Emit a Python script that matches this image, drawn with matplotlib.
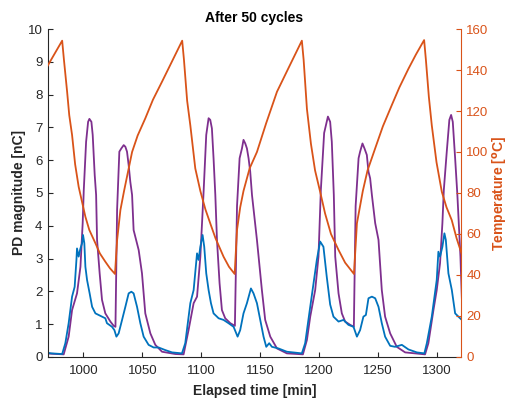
import matplotlib
matplotlib.use("Agg")
import matplotlib.pyplot as plt

# MATLAB-style colours
blue = (0.0, 0.447, 0.741)
orange = (0.85, 0.325, 0.098)
purple = (0.494, 0.184, 0.556)
axcol = (0.15, 0.15, 0.15)

# PD magnitude, blue trace [nC]
t_blue = [967, 973, 982, 984.7, 987.5, 990.4, 992.6, 994.1, 994.6, 996, 997.5, 998.9, 999.7,
          1000.8, 1001.7, 1003.1, 1005.3, 1007.4, 1010.2, 1015.8, 1018.6, 1020, 1024.3, 1026.3,
          1028, 1029.9, 1032.8, 1035.6, 1038.4, 1040.7, 1042.6, 1045.5, 1048.3, 1051.1, 1055.3,
          1059.6, 1063.8, 1069.5, 1075.2, 1083.6, 1086.4, 1090.7, 1093.5, 1096.4, 1097.7, 1099.2,
          1101.1, 1102.5, 1104.2, 1106.2, 1108.2, 1110.4, 1114.7, 1118.9, 1123.1, 1127.4, 1130.8,
          1133, 1135.8, 1138.7, 1142.1, 1144.3, 1147.2, 1150, 1152.8, 1155.1, 1157.6, 1159.9,
          1165.5, 1172.6, 1185.3, 1188.1, 1192.4, 1198, 1200.8, 1203.6, 1206.4, 1209.3, 1212.1,
          1216.4, 1220.6, 1224.8, 1229.1, 1232, 1234.7, 1237.5, 1239.6, 1241.8, 1244.7, 1247.5,
          1250.3, 1253.1, 1255.9, 1260.2, 1264.4, 1270.1, 1275.7, 1282.8, 1289.2, 1291.3, 1295.5,
          1299.7, 1301.1, 1302.5, 1304.5, 1306.2, 1307.4, 1309.6, 1312.5, 1315.3, 1318.1, 1321]
pd_blue = [0.14, 0.11, 0.09, 0.42, 1.03, 1.84, 2.14, 2.96, 3.31, 3.06, 3.31, 3.47, 3.72,
           3.47, 2.75, 2.35, 1.94, 1.53, 1.33, 1.23, 1.18, 1.03, 0.92, 0.82,
           0.62, 0.72, 1.13, 1.53, 1.94, 1.99, 1.94, 1.53, 1.03, 0.62, 0.37,
           0.29, 0.29, 0.21, 0.14, 0.11, 0.42, 1.64, 2.04, 3.16, 2.96, 3.36,
           3.72, 3.36, 2.55, 2.04, 1.64, 1.33, 1.18, 1.13, 1.03, 0.92, 0.62,
           0.82, 1.33, 1.64, 2.09, 1.94, 1.64, 1.13, 0.62, 0.31, 0.42, 0.31,
           0.26, 0.16, 0.11, 0.42, 1.53, 2.96, 3.52, 3.36, 2.45, 1.6, 1.23,
           1.08, 1.13, 0.98, 0.92, 0.62, 0.82, 1.23, 1.28, 1.79, 1.84, 1.79,
           1.53, 1.03, 0.62, 0.34, 0.31, 0.37, 0.23, 0.14, 0.11, 0.42, 1.23,
           2.35, 3.21, 3.06, 3.36, 3.77, 3.57, 2.55, 2.04, 1.33, 1.23, 1.13]

# PD magnitude, purple trace [nC]
t_purple = [967, 983.3, 987.5, 990.4, 994.6, 997.5, 999.4, 1000.3, 1002.3, 1004, 1005.1, 1006.8,
            1007.9, 1009.6, 1010.8, 1011.6, 1013.8, 1015.8, 1018.6, 1022.9, 1025.7, 1027.2,
            1028.6, 1030.5, 1032.2, 1034.2, 1035.6, 1037, 1038.4, 1039.8, 1041.3, 1042.6, 1046.9,
            1049.7, 1052.5, 1056.8, 1061, 1066.7, 1078, 1085, 1089.2, 1093.5, 1096.4, 1099.2,
            1102, 1104.2, 1106.2, 1107.6, 1109, 1110.4, 1111.9, 1113.3, 1115.5, 1117.5, 1120.3,
            1124.6, 1128.5, 1130.3, 1132.5, 1134.5, 1135.8, 1137.3, 1138.7, 1140.1, 1141.5, 1143,
            1147.2, 1151.4, 1154.2, 1158.5, 1164.2, 1172.6, 1186.2, 1189.6, 1192.4, 1196.6,
            1199.4, 1201.4, 1204.2, 1207.4, 1209.3, 1210.7, 1212.4, 1213.6, 1216.4, 1219.2, 1222,
            1226.3, 1229.4, 1230.9, 1233.4, 1234.7, 1236.7, 1238.4, 1240.4, 1241.8, 1243.2,
            1244.7, 1247.5, 1250.3, 1253.1, 1255.9, 1260.2, 1265.8, 1272.9, 1289.8, 1292.6,
            1296.9, 1299.7, 1302.5, 1304.5, 1305.7, 1308.2, 1310.4, 1311.9, 1313.3, 1315.3,
            1317.2, 1319.8, 1321]
pd_purple = [0.11, 0.08, 0.62, 1.43, 1.94, 2.75, 4.08, 5.07, 6.56, 7.17, 7.26, 7.17,
             6.77, 5.55, 4.94, 3.57, 2.55, 1.74, 1.33, 1.08, 0.95, 0.92,
             4.5, 6.26, 6.36, 6.46, 6.41, 6.26, 5.85, 5.34, 4.94, 3.87, 3.26,
             2.55, 1.33, 0.72, 0.37, 0.16, 0.09, 0.08, 0.82, 1.64, 1.84, 3.06,
             5.07, 6.77, 7.28, 7.23, 6.97, 6.06, 4.94, 3.57, 2.25, 1.43, 1.18,
             1.03, 0.95, 4.6, 6.06, 6.36, 6.62, 6.51, 6.36, 6.06, 5.65, 4.94,
             3.57, 2.04, 1.13, 0.62, 0.26, 0.11, 0.08, 0.52, 1.23, 2.04,
             3.06, 5.09, 6.83, 7.33, 7.17, 6.56, 4.94, 3.06, 1.94, 1.33, 1.08,
             0.98, 0.92, 4.6, 6.06, 6.26, 6.51, 6.36, 6.16, 5.65, 5.45,
             4.94, 4.08, 3.57, 2.04, 1.23, 0.72, 0.31, 0.14, 0.08, 0.42,
             1.43, 2.04, 2.86, 4.08, 5.09, 6.26, 7.23, 7.38, 7.17, 6.06,
             4.94, 3.06, 1.8]

# Temperature [degC]
t_temp = [967, 982,
          983.5, 986.2, 988, 990.4, 993, 996, 1001.7, 1005, 1010.2, 1014, 1018.6, 1022.5, 1026.8,
          1028.6, 1031.4, 1034.5, 1037, 1041.3, 1046, 1052.5, 1059, 1066.7, 1075, 1083.8,
          1085.3, 1088, 1090.7, 1094.9, 1099.2, 1103.5, 1107.6, 1112, 1118.9, 1123.5, 1128.3,
          1130.3, 1133, 1135.8, 1141, 1147.2, 1155, 1164.2, 1174, 1185.3,
          1186.8, 1189.6, 1193, 1196.5, 1200.8, 1205, 1210, 1216.4, 1222, 1229.5,
          1232, 1237, 1241, 1247.5, 1254, 1261.6, 1268, 1275.7, 1282, 1289,
          1290.5, 1293, 1295.5, 1299.5, 1304, 1308, 1312.4, 1316.5, 1321]
temp = [139.4, 154.3,
        145, 129.4, 118, 108.3, 94, 83, 68.4, 62, 55.5, 50.5, 46.5, 43.3, 40.5,
        57, 71.7, 81, 88, 100, 108, 116.4, 125.5, 134.3, 144, 154.3,
        145, 125, 113, 92, 81, 72, 65.2, 58, 48.9, 44, 40.5,
        62, 73, 81, 92, 100, 114, 129.4, 141, 154.3,
        145, 121, 104, 91, 80.6, 70, 60, 52.2, 46, 40.5,
        65.2, 81, 91, 101.8, 112.5, 122.9, 131.5, 140.6, 147.5, 154.6,
        145, 127, 113, 95, 80.6, 73, 66.8, 58, 50]

plt.rcParams['font.family'] = ['Liberation Sans', 'DejaVu Sans']
plt.rcParams['font.size'] = 9.5

fig = plt.figure(figsize=(5.13, 3.99), dpi=100)
ax = fig.add_axes([0.0936, 0.1053, 0.8044, 0.822])

ax.plot(t_purple, pd_purple, color=purple, lw=1.3)
ax.plot(t_blue, pd_blue, color=blue, lw=1.3)
ax.set_xlim(970, 1320)
ax.set_ylim(0, 10)
ax.set_yticks(range(0, 11))
ax.set_xticks(range(1000, 1301, 50))
ax.set_xlabel('Elapsed time [min]', fontweight='bold', fontsize=10, color=axcol, labelpad=5)
ax.set_ylabel('PD magnitude [nC]', fontweight='bold', fontsize=10, color=axcol, labelpad=1)
ax.set_title('After 50 cycles', fontweight='bold', fontsize=10, color='black', pad=5)
ax.tick_params(direction='in', length=3.5, colors=axcol, labelcolor=axcol, width=0.8)
ax.tick_params(axis='x', pad=6)
ax.tick_params(axis='y', pad=4)
ax.spines['top'].set_visible(False)
ax.spines['right'].set_visible(False)
for s in ('left', 'bottom'):
    ax.spines[s].set_color(axcol)

ax2 = ax.twinx()
ax2.plot(t_temp, temp, color=orange, lw=1.3)
ax2.set_ylim(0, 160)
ax2.set_yticks(range(0, 161, 20))
ax2.set_ylabel(r'Temperature [$\mathbf{^o}$C]', fontweight='bold', fontsize=10, color=orange,
               labelpad=2)
ax2.tick_params(direction='in', length=3.5, colors=orange, width=0.8, pad=4)
ax2.spines['top'].set_visible(False)
ax2.spines['left'].set_visible(False)
ax2.spines['bottom'].set_visible(False)
ax2.spines['right'].set_color(orange)

fig.savefig('out.png', dpi=100)
